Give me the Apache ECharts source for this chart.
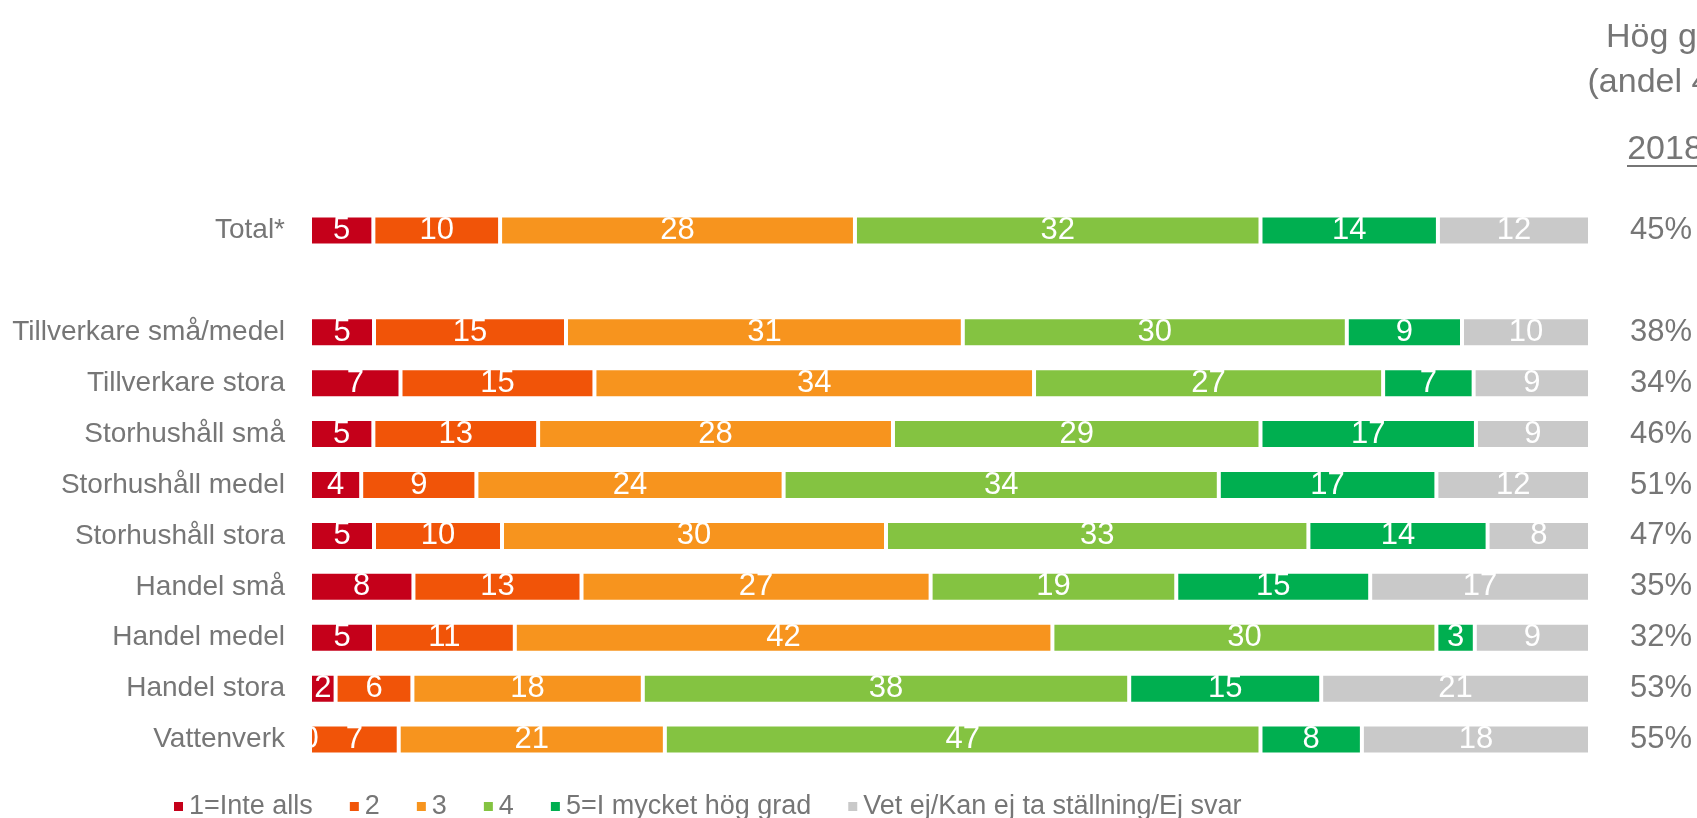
<!DOCTYPE html>
<html>
<head>
<meta charset="utf-8">
<script src="https://cdn.jsdelivr.net/npm/echarts@6/dist/echarts.min.js"></script>
<style>
  html, body { margin: 0; padding: 0; background: #ffffff; }
  #chart { width: 1697px; height: 818px; }
</style>
</head>
<body>
<div id="chart"></div>
<script>
// Survey rows (an empty row separates the total from the groups)
const categories = ['Total*', '', 'Tillverkare små/medel', 'Tillverkare stora', 'Storhushåll små',
  'Storhushåll medel', 'Storhushåll stora', 'Handel små', 'Handel medel', 'Handel stora', 'Vattenverk'];

// Answer shares per row, in percent
const inteAlls = [5, null, 5, 7, 5, 4, 5, 8, 5, 2, 0];
const grad2 = [10, null, 15, 15, 13, 9, 10, 13, 11, 6, 7];
const grad3 = [28, null, 31, 34, 28, 24, 30, 27, 42, 18, 21];
const grad4 = [32, null, 30, 27, 29, 34, 33, 19, 30, 38, 47];
const mycketHog = [14, null, 9, 7, 17, 17, 14, 15, 3, 15, 8];
const vetEj = [12, null, 10, 9, 9, 12, 8, 17, 9, 21, 18];

// High degree (4+5) per row, shown to the right of the bars
const hogGrad = ['45%', '', '38%', '34%', '46%', '51%', '47%', '35%', '32%', '53%', '55%'];

const seriesNames = ['1=Inte alls', '2', '3', '4', '5=I mycket hög grad', 'Vet ej/Kan ej ta ställning/Ej svar'];
const seriesValues = [inteAlls, grad2, grad3, grad4, mycketHog, vetEj];
const seriesColors = ['#C5001A', '#F15408', '#F7941E', '#84C341', '#00AF50', '#C9C9C9'];

const FONT = "'Liberation Sans', Arial, sans-serif";
const GREY_TEXT = '#767676';

// Each row is drawn as a 100 % stacked bar
const rowTotals = categories.map((_, i) =>
  seriesValues.reduce((s, arr) => s + (arr[i] == null ? 0 : arr[i]), 0));

const series = seriesValues.map((arr, k) => ({
  name: seriesNames[k],
  type: 'bar',
  stack: 'share',
  barWidth: 30,
  itemStyle: { color: seriesColors[k], borderColor: '#ffffff', borderWidth: 2 },
  label: {
    show: true,
    position: 'inside',
    color: '#ffffff',
    fontFamily: FONT,
    fontSize: 31,
    formatter: p => (p.data && p.data.raw != null ? String(p.data.raw) : '')
  },
  data: arr.map((v, i) => v == null ? { value: null, raw: null }
    : { value: v / rowTotals[i] * 100, raw: v })
}));

const chart = echarts.init(document.getElementById('chart'), null, { renderer: 'canvas' });
chart.setOption({
  animation: false,
  backgroundColor: '#ffffff',
  textStyle: { fontFamily: FONT },
  grid: { left: 310, right: 107, top: 205, bottom: 53, containLabel: false },
  xAxis: { type: 'value', min: 0, max: 100, show: false },
  yAxis: [{
    type: 'category',
    data: categories,
    inverse: true,
    axisLine: { show: false },
    axisTick: { show: false },
    axisLabel: { color: GREY_TEXT, fontSize: 28, fontFamily: FONT, margin: 25 }
  }, {
    type: 'category',
    data: categories,
    inverse: true,
    position: 'right',
    axisLine: { show: false },
    axisTick: { show: false },
    axisLabel: {
      color: GREY_TEXT, fontSize: 31, fontFamily: FONT, margin: 71, align: 'center',
      formatter: (v, i) => hogGrad[i]
    }
  }],
  legend: {
    data: seriesNames,
    left: 167,
    top: 788,
    icon: 'rect',
    itemWidth: 11,
    itemHeight: 11,
    itemGap: 35,
    textStyle: { color: GREY_TEXT, fontSize: 27, fontFamily: FONT }
  },
  graphic: [
    { type: 'text', x: 1676, y: 38,
      style: { text: 'Hög grad', fill: GREY_TEXT, font: '34px ' + FONT, textAlign: 'center', textVerticalAlign: 'middle' } },
    { type: 'text', x: 1674, y: 83,
      style: { text: '(andel 4+5)', fill: GREY_TEXT, font: '34px ' + FONT, textAlign: 'center', textVerticalAlign: 'middle' } },
    { type: 'text', x: 1665, y: 150,
      style: { text: '2018', fill: GREY_TEXT, font: '34px ' + FONT, textAlign: 'center', textVerticalAlign: 'middle' } },
    { type: 'line', shape: { x1: 1627, y1: 166, x2: 1697, y2: 166 },
      style: { stroke: GREY_TEXT, lineWidth: 2 } }
  ],
  series: series
});
</script>
</body>
</html>
